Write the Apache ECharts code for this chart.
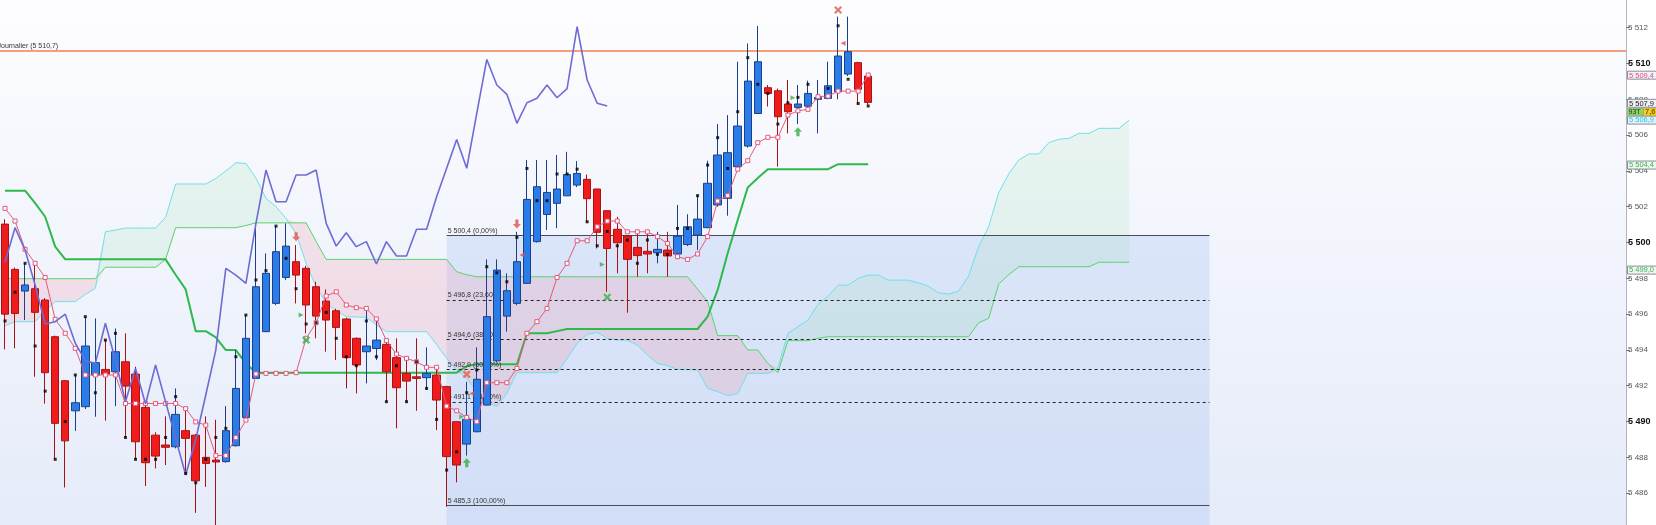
<!DOCTYPE html>
<html><head><meta charset="utf-8">
<script src="https://cdn.jsdelivr.net/npm/echarts/dist/echarts.min.js"></script>
<style>html,body{margin:0;padding:0;background:#fff}#c{width:1656px;height:525px}</style>
</head><body><div id="c"></div>
<script>
const categories = Array.from({length: 162}, (_, i) => String(i));
const yTicks = [5486,5488,5490,5492,5494,5496,5498,5500,5502,5504,5506,5508,5510,5512];
const yMin = 5484.22, yMax = 5513.55;

const opens = [5501.03,5498.5,5497.29,5497.42,5496.79,5494.74,5492.28,5490.6,5490.83,5492.6,
5492.91,5492.78,5493.34,5492.65,5490.79,5489.24,5488.69,5488.59,5489.49,5489.24,
5488.0,5487.85,5487.76,5488.65,5490.23,5492.41,5495.02,5496.6,5498.05,5498.93,
5498.56,5497.53,5496.73,5496.19,5495.73,5494.65,5493.9,5494.08,5494.31,5493.57,
5492.69,5492.5,5492.45,5492.6,5491.95,5489.99,5488.74,5489.43,5490.92,5493.39,
5495.89,5496.6,5497.72,5500.05,5501.57,5502.19,5502.61,5503.21,5503.53,5502.99,
5501.78,5500.74,5500.36,5499.73,5499.51,5499.43,5499.58,5499.36,5499.89,5500.42,
5500.83,5502.1,5502.47,5504.24,5505.39,5507.21,5508.65,5508.48,5507.74,5507.55,
5507.62,5508.0,5508.05,5508.43,5509.41,5510.05,5509.3];
const closes = [5496.0,5496.04,5497.63,5496.1,5492.73,5489.9,5488.92,5491.05,5494.22,5493.29,
5492.65,5493.9,5491.98,5488.87,5487.7,5488.07,5488.56,5490.4,5489.06,5486.69,
5487.66,5487.74,5489.49,5491.85,5494.65,5497.53,5498.28,5499.49,5499.8,5498.18,
5496.51,5495.89,5495.67,5495.26,5493.57,5493.16,5494.22,5494.55,5492.78,5491.89,
5492.26,5492.41,5492.69,5491.2,5488.04,5487.57,5490.12,5492.36,5495.86,5498.46,
5497.31,5498.93,5502.41,5503.12,5502.8,5502.99,5503.8,5503.86,5502.45,5500.57,
5499.67,5499.99,5499.06,5499.27,5499.36,5499.62,5499.25,5500.36,5500.88,5501.31,
5503.31,5504.89,5505.02,5506.51,5509.02,5510.1,5508.33,5507.03,5507.31,5507.74,
5508.33,5508.1,5508.76,5510.42,5510.66,5508.56,5507.83];
const lows = [5494.03,5494.09,5495.67,5492.5,5491.0,5487.89,5486.32,5489.48,5490.7,5490.27,
5490.05,5490.86,5489.11,5487.89,5486.4,5487.38,5487.57,5488.5,5487.1,5484.9,
5486.35,5484.0,5487.7,5488.6,5490.2,5492.4,5495.0,5496.5,5497.9,5496.6,
5494.93,5494.65,5493.9,5493.44,5491.85,5491.57,5492.13,5493.44,5491.1,5489.62,
5491.1,5490.6,5491.76,5489.52,5485.24,5486.6,5488.1,5489.4,5490.9,5493.3,
5495.02,5496.5,5497.7,5500.0,5500.7,5500.8,5502.6,5503.1,5501.11,5499.67,
5497.25,5498.28,5496.08,5498.09,5498.28,5498.84,5498.09,5499.3,5499.8,5499.58,
5500.8,5502.0,5501.5,5504.2,5505.3,5507.2,5507.6,5504.24,5506.1,5506.62,
5507.5,5506.1,5508.0,5508.0,5509.3,5507.68,5507.7];
const highs = [5501.3,5498.6,5498.84,5498.9,5496.9,5494.8,5492.3,5492.6,5495.86,5495.76,
5494.55,5495.2,5494.93,5493.06,5490.9,5489.4,5490.29,5491.85,5490.86,5489.3,
5490.29,5490.1,5490.86,5493.99,5495.95,5501.07,5499.39,5500.92,5501.07,5499.86,
5498.7,5497.81,5497.38,5496.3,5495.8,5494.7,5496.23,5495.76,5494.55,5494.65,
5493.5,5494.65,5494.14,5493.1,5492.0,5490.0,5492.22,5494.14,5499.06,5499.06,
5498.28,5500.6,5504.61,5504.61,5504.61,5504.89,5505.07,5504.55,5503.8,5503.0,
5501.8,5501.44,5500.4,5500.6,5500.66,5500.6,5500.6,5502.1,5501.58,5502.65,
5504.57,5506.62,5507.12,5510.1,5511.12,5512.1,5508.8,5508.6,5509.08,5508.8,
5509.04,5509.08,5510.1,5512.62,5512.62,5510.1,5509.4];
const dots = [5495.62,5497.23,5498.84,5494.22,5491.7,5487.89,5490.0,5492.6,5495.86,5491.61,
5494.55,5494.93,5489.11,5487.89,5487.89,5487.89,5489.11,5491.39,5487.1,5486.58,
5487.89,5489.11,5489.62,5493.62,5495.95,5497.91,5498.43,5500.92,5499.12,5497.42,
5495.45,5495.52,5496.1,5494.65,5493.62,5493.12,5495.62,5493.62,5491.11,5493.12,
5491.11,5493.34,5491.85,5490.12,5487.29,5488.31,5491.61,5492.88,5498.65,5498.31,
5497.81,5500.29,5504.14,5502.34,5502.34,5503.83,5503.83,5504.1,5501.16,5499.82,
5500.62,5499.82,5500.14,5498.84,5500.14,5499.34,5499.34,5500.79,5500.79,5502.62,
5504.33,5505.86,5504.14,5507.31,5510.33,5508.84,5508.33,5506.62,5507.81,5508.11,
5508.84,null,5508.61,5512.11,5509.12,5507.77,5507.63];
const tenkan = [5501.91,5501.2,5499.62,5498.84,5498.05,5495.71,5494.93,5494.09,5492.6,5492.6,
5492.6,5492.6,5491.01,5491.01,5491.01,5491.01,5491.01,5491.01,5490.72,5489.98,
5489.8,5488.1,5488.1,5489.1,5490.08,5492.66,5492.69,5492.69,5492.69,5492.73,
5494.65,5495.52,5497.01,5497.25,5496.51,5496.36,5496.32,5495.73,5494.52,5493.77,
5493.53,5493.34,5493.03,5493.03,5490.86,5490.6,5490.23,5489.99,5492.17,5492.17,
5492.17,5492.97,5494.93,5495.58,5496.32,5498.05,5498.84,5500.1,5500.1,5500.88,
5501.2,5501.2,5500.6,5500.6,5500.6,5500.33,5499.95,5499.21,5499.06,5499.36,
5500.33,5502.32,5502.62,5504.1,5504.57,5505.58,5505.88,5505.88,5507.12,5507.36,
5507.44,5508.15,5508.18,5508.46,5508.46,5508.46,5509.36];
const kijun = [5502.9,5502.9,5502.9,5502.2,5501.44,5499.77,5499.06,5499.06,5499.06,5499.06,
5499.06,5499.06,5499.06,5499.06,5499.06,5499.06,5499.06,5498.2,5497.38,5495.05,
5495.05,5494.7,5493.99,5493.99,5493.25,5492.73,5492.73,5492.73,5492.73,5492.73,
5492.73,5492.73,5492.73,5492.73,5492.73,5492.73,5492.73,5492.73,5492.73,5492.73,
5492.73,5492.73,5492.73,5492.73,5492.73,5492.73,5493.1,5493.2,5493.2,5493.2,
5493.2,5493.2,5494.93,5494.93,5494.93,5495.05,5495.17,5495.17,5495.17,5495.17,
5495.17,5495.17,5495.17,5495.17,5495.17,5495.17,5495.17,5495.17,5495.17,5495.17,
5495.86,5497.35,5499.4,5501.26,5503.08,5503.6,5504.1,5504.1,5504.1,5504.1,
5504.1,5504.1,5504.1,5504.38,5504.38,5504.38,5504.38];
const senkouA = [5495.35,5495.58,5495.58,5495.58,5496.19,5496.7,5496.7,5496.7,5497.1,5497.44,
5500.6,5500.7,5500.81,5500.81,5500.81,5500.81,5501.41,5503.27,5503.27,5503.27,
5503.27,5503.58,5504.0,5504.46,5504.42,5503.6,5502.47,5502.0,5501.35,5500.51,
5498.84,5497.53,5496.6,5496.2,5495.86,5495.84,5495.82,5495.4,5495.02,5495.02,
5495.02,5495.02,5495.02,5494.3,5493.53,5492.88,5492.41,5491.67,5491.11,5490.83,
5491.57,5492.73,5492.73,5492.73,5492.73,5492.73,5493.5,5494.37,5494.87,5494.98,
5494.65,5494.55,5494.55,5494.27,5493.72,5493.25,5493.12,5492.91,5492.9,5492.88,
5491.85,5491.67,5491.44,5491.57,5492.69,5492.69,5492.69,5493.0,5494.93,5495.3,
5495.67,5496.55,5497.0,5497.62,5497.62,5498.0,5498.18,5498.18,5497.9,5497.9,
5497.9,5497.75,5497.56,5497.19,5497.12,5497.29,5498.13,5499.77,5500.88,5502.78,
5503.83,5504.61,5504.95,5504.95,5505.58,5505.77,5505.82,5506.1,5506.1,5506.38,
5506.38,5506.38,5506.84];
const senkouB = [5497.98,5497.98,5497.98,5497.98,5497.98,5497.98,5497.98,5497.98,5497.98,5497.98,
5498.62,5498.62,5498.62,5498.62,5498.62,5498.62,5499.06,5500.83,5500.83,5500.83,
5500.83,5500.83,5500.83,5500.83,5500.95,5501.1,5501.1,5501.1,5501.1,5501.1,
5501.1,5500.05,5499.06,5499.06,5499.06,5499.06,5499.06,5499.06,5499.06,5499.06,
5499.06,5499.06,5499.06,5499.06,5499.06,5498.37,5498.2,5498.09,5498.09,5498.09,
5498.09,5498.09,5498.09,5498.09,5498.09,5498.09,5498.09,5498.09,5498.09,5498.09,
5498.09,5498.09,5498.09,5498.09,5498.09,5498.09,5498.09,5498.09,5498.09,5497.4,
5496.7,5494.8,5494.8,5494.8,5494.0,5494.0,5493.25,5492.73,5494.52,5494.52,
5494.52,5494.65,5494.74,5494.74,5494.74,5494.74,5494.74,5494.74,5494.74,5494.74,
5494.74,5494.74,5494.74,5494.74,5494.74,5494.74,5494.74,5495.52,5495.76,5497.68,
5498.2,5498.65,5498.65,5498.65,5498.65,5498.65,5498.65,5498.65,5498.65,5498.9,
5498.9,5498.9,5498.9];
const chikou = [5498.9,5500.83,5499.58,5497.63,5495.45,5495.58,5496.0,5494.38,5493.4,5493.25,
5495.49,5493.44,5491.1,5492.97,5490.98,5493.16,5491.1,5489.06,5487.01,5489.0,
5491.48,5493.99,5498.56,5498.18,5497.72,5501.07,5504.05,5502.28,5502.28,5503.77,
5503.77,5504.05,5501.07,5499.8,5500.55,5499.77,5500.05,5498.8,5500.05,5499.25,
5499.25,5500.74,5500.74,5502.56,5504.15,5505.76,5504.15,5507.22,5510.23,5508.8,
5508.28,5506.66,5507.81,5508.06,5508.8,5508.09,5508.6,5512.06,5509.08,5507.78,5507.63];

const fibLevels = [5500.4, 5496.8, 5494.6, 5492.9, 5491.1, 5485.3];
const fibLabels = ['5 500,4 (0,00%)','5 496,8 (23,60%)','5 494,6 (38,20%)','5 492,9 (50,00%)','5 491,1 (61,80%)','5 485,3 (100,00%)'];
const fibStart = 44, fibEnd = 120;
const dailyLevel = 5510.7;
const dailyLabel = 'Journalier (5 510,7)';

const downArrows = [[29, 5500.32], [51, 5501.03]];
const upArrows = [[46, 5487.7], [79, 5506.19]];
const greenStars = [[30, 5494.55], [60, 5496.94]];
const redStars = [[46, 5492.64], [83, 5512.99]];
const greenTriangles = [[30, 5495.95], [46, 5490.27], [60, 5498.78], [79, 5508.09]];
const redTriangles = [[51, 5499.3], [46, 5491.57], [83, 5511.13]];

const tagTexts = ['5 509,4', '5 507,9', '5 506,9', '5 504,4', '5 499,0'];
const tagValues = [5509.35, 5507.78, 5506.84, 5504.33, 5498.46];
const tagColors = ['#e0507a', '#222', '#3cc4dc', '#3cb050', '#3cb050'];
const tagBgs = ['#f1f1f6', '#eef0f6', '#dcf2f8', '#eef8ee', '#eef8ee'];
const volTexts = ['93T', '7,6'];
const volValue = 5507.3;

const FONT = 'Liberation Sans, Arial, sans-serif';
const candleData = opens.map((o, i) => [o, closes[i], lows[i], highs[i]]);
const cloudBase = senkouA.map((a, i) => Math.min(a, senkouB[i]));
const cloudUp = senkouA.map((a, i) => Math.max(a - senkouB[i], 0));
const cloudDown = senkouA.map((a, i) => Math.max(senkouB[i] - a, 0));

function fmt(v) { const s = String(Math.round(v)); return s.slice(0, s.length - 3) + ' ' + s.slice(-3); }

const chart = echarts.init(document.getElementById('c'), null, {renderer: 'canvas'});

const fibMarkLines = fibLevels.map((v, k) => {
  const solid = (k === 0 || k === fibLevels.length - 1);
  return [
    {coord: [fibStart, v], lineStyle: {color: solid ? '#4a4a58' : '#222', width: 1, type: solid ? 'solid' : [3, 3]},
     label: {show: true, formatter: fibLabels[k], position: 'insideStartTop', distance: [1, 1], fontSize: 7, color: '#333', fontFamily: FONT}},
    {coord: [fibEnd, v]}
  ];
});

const starPath = 'path://M2,0 L5,3 L8,0 L10,2 L7,5 L10,8 L8,10 L5,7 L2,10 L0,8 L3,5 L0,2 Z';
const downPath = 'path://M3,0 L7,0 L7,5 L10,5 L5,10 L0,5 L3,5 Z';
const upPath = 'path://M5,0 L10,5 L7,5 L7,10 L3,10 L3,5 L0,5 Z';

const option = {
  animation: false,
  backgroundColor: '#ffffff',
  grid: {left: -0.75, right: 30, top: 0, bottom: 0, show: true, borderWidth: 0,
    backgroundColor: {type: 'linear', x: 0, y: 0, x2: 0, y2: 1,
      colorStops: [{offset: 0, color: '#fdfdff'}, {offset: 0.5, color: '#f1f4fc'}, {offset: 1, color: '#e5ebf9'}]}},
  xAxis: {type: 'category', data: categories, boundaryGap: true,
    axisLine: {show: false}, axisTick: {show: false}, axisLabel: {show: false}, splitLine: {show: false}},
  yAxis: {type: 'value', position: 'right', min: yMin, max: yMax, scale: true,
    axisLine: {show: true, lineStyle: {color: '#b4b4c0', width: 1}},
    axisTick: {show: true, customValues: yTicks, length: 4, lineStyle: {color: '#777'}},
    axisLabel: {show: true, customValues: yTicks, margin: 2, color: '#555', fontSize: 8, fontFamily: FONT,
      formatter: v => (Math.round(v) % 10 === 0 ? '{b|' + fmt(v) + '}' : fmt(v)),
      rich: {b: {fontWeight: 'bold', fontSize: 9, color: '#111', fontFamily: FONT}}},
    splitLine: {show: false}},
  series: [
    {name: 'fib', type: 'line', data: [], z: 1, silent: true,
      markArea: {silent: true, itemStyle: {color: 'rgba(170,195,242,0.32)'},
        data: [[{coord: [fibStart, fibLevels[0]]}, {coord: [fibEnd, yMin]}]]},
      markLine: {silent: true, symbol: ['none', 'none'], data: fibMarkLines.concat([
        {yAxis: dailyLevel, lineStyle: {color: '#f08050', width: 1.5, type: 'solid'}, label: {show: false}}])}},
    {name: 'cloudBase', type: 'line', data: cloudBase, stack: 'cloud', symbol: 'none', lineStyle: {width: 0}, z: 2, silent: true},
    {name: 'cloudUp', type: 'line', data: cloudUp, stack: 'cloud', symbol: 'none', lineStyle: {width: 0},
      areaStyle: {color: 'rgba(110,215,140,0.17)'}, z: 2, silent: true},
    {name: 'cloudDown', type: 'line', data: cloudDown, stack: 'cloud', symbol: 'none', lineStyle: {width: 0},
      areaStyle: {color: 'rgba(240,140,160,0.30)'}, z: 2, silent: true},
    {name: 'Senkou A', type: 'line', data: senkouA, symbol: 'none', lineStyle: {color: '#6fe0ea', width: 1}, z: 3},
    {name: 'Senkou B', type: 'line', data: senkouB, symbol: 'none', lineStyle: {color: '#5ad468', width: 1}, z: 3},
    {name: 'Kijun', type: 'line', data: kijun, symbol: 'none', lineStyle: {color: '#2fb84c', width: 2}, z: 4},
    {name: 'OHLC', type: 'candlestick', data: candleData, barWidth: 8, z: 5, clip: true,
      itemStyle: {color: '#2a7ce8', color0: '#f01c1c', borderColor: '#1d3f86', borderColor0: '#a81212', borderWidth: 1}},
    {name: 'Tenkan', type: 'line', data: tenkan, symbol: 'rect', symbolSize: 4, showAllSymbol: true,
      lineStyle: {color: '#e25a7c', width: 1}, itemStyle: {color: '#ffffff', borderColor: '#e25a7c', borderWidth: 1}, z: 6},
    {name: 'Chikou', type: 'line', data: chikou, symbol: 'none', lineStyle: {color: '#6c6cd4', width: 1.6}, z: 7},
    {name: 'dots', type: 'scatter', data: dots, symbol: 'rect', symbolSize: 3, itemStyle: {color: '#000'}, z: 8},
    {name: 'down', type: 'scatter', data: downArrows, symbol: downPath, symbolSize: [8, 9], itemStyle: {color: '#e45050'}, z: 9},
    {name: 'up', type: 'scatter', data: upArrows, symbol: upPath, symbolSize: [8, 9], itemStyle: {color: '#2fb040'}, z: 9},
    {name: 'gstar', type: 'scatter', data: greenStars, symbol: starPath, symbolSize: 8, itemStyle: {color: '#3cb048'}, z: 9},
    {name: 'rstar', type: 'scatter', data: redStars, symbol: starPath, symbolSize: 8, itemStyle: {color: '#e05a4a'}, z: 9},
    {name: 'gtri', type: 'scatter', data: greenTriangles, symbol: 'triangle', symbolRotate: -90, symbolSize: 5,
      symbolOffset: [-5, 0], itemStyle: {color: '#3cb048'}, z: 9},
    {name: 'rtri', type: 'scatter', data: redTriangles, symbol: 'triangle', symbolRotate: 90, symbolSize: 5,
      symbolOffset: [5, 0], itemStyle: {color: '#e05050'}, z: 9}
  ]
};
chart.setOption(option);

const graphics = [];
const dailyY = chart.convertToPixel({yAxisIndex: 0}, dailyLevel);
graphics.push({type: 'text', x: -2.5, y: dailyY - 1.5, z: 20,
  style: {text: dailyLabel, fontSize: 7, fontFamily: FONT, fill: '#333', verticalAlign: 'bottom'}});
tagValues.forEach((v, k) => {
  const py = chart.convertToPixel({yAxisIndex: 0}, v);
  graphics.push({type: 'rect', shape: {x: 1627.5, y: py - 4, width: 30, height: 8}, z: 20,
    style: {fill: tagBgs[k], stroke: '#8c8ca0', lineWidth: 1}});
  graphics.push({type: 'text', x: 1629, y: py + 0.3, z: 21,
    style: {text: tagTexts[k], fontSize: 7.5, fontFamily: FONT, fill: tagColors[k], verticalAlign: 'middle'}});
});
const vy = chart.convertToPixel({yAxisIndex: 0}, volValue);
graphics.push({type: 'rect', shape: {x: 1627.5, y: vy - 3.5, width: 16, height: 7}, z: 22, style: {fill: '#8fd26c', stroke: '#7a9a60', lineWidth: 0.6}});
graphics.push({type: 'rect', shape: {x: 1643.5, y: vy - 3.5, width: 14, height: 7}, z: 22, style: {fill: '#f2d21e', stroke: '#b09a20', lineWidth: 0.6}});
graphics.push({type: 'text', x: 1628.5, y: vy + 0.3, z: 23, style: {text: volTexts[0], fontSize: 7, fontFamily: FONT, fill: '#1a3a10', verticalAlign: 'middle'}});
graphics.push({type: 'text', x: 1645, y: vy + 0.3, z: 23, style: {text: volTexts[1], fontSize: 7.5, fontFamily: FONT, fill: '#8a5a00', fontWeight: 'bold', verticalAlign: 'middle'}});
chart.setOption({graphic: graphics});
</script>
</body></html>
